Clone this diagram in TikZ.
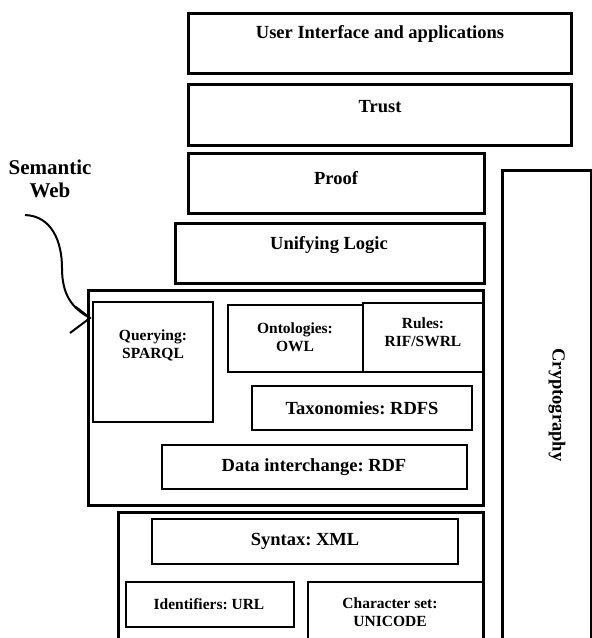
\documentclass[tikz,border=0pt]{standalone}
\usepackage{fontspec}
\setmainfont{Liberation Serif}
\usetikzlibrary{calc}
\frenchspacing
\begin{document}
\begin{tikzpicture}[x=1pt,y=-1pt,
  layer/.style={draw, line width=3pt, anchor=north west, inner sep=0pt, outer sep=0pt},
  inbox/.style={draw, line width=2pt, anchor=north west, inner sep=0pt, outer sep=0pt},
  biglbl/.style={font=\bfseries\fontsize{18.5}{21}\selectfont, align=center, inner sep=0pt},
  smalllbl/.style={font=\bfseries\fontsize{15.5}{18}\selectfont, align=center, inner sep=0pt},
  titlelbl/.style={font=\bfseries\fontsize{21}{23.5}\selectfont, align=center, inner sep=0pt}]
\useasboundingbox (0,0) rectangle (592,638);
\clip (0,0) rectangle (592,638);

% upper layers of the stack
\node[layer, minimum width=383, minimum height=60] (ui)    at (188,13)  {};
\node[layer, minimum width=383, minimum height=61] (trust) at (188,84)  {};
\node[layer, minimum width=296, minimum height=60] (proof) at (188,153) {};
\node[layer, minimum width=309, minimum height=60] (logic) at (175,223) {};

% semantic web block
\node[layer, minimum width=395, minimum height=215] (sw) at (88,290) {};
\node[inbox, minimum width=120, minimum height=120] (query) at (93,302)  {};
\node[inbox, minimum width=135, minimum height=67]  (onto)  at (228,305) {};
\node[inbox, minimum width=120, minimum height=69]  (rules) at (363,303) {};
\node[inbox, minimum width=220, minimum height=44]  (tax)   at (252,386) {};
\node[inbox, minimum width=305, minimum height=44]  (rdf)   at (162,445) {};

% lower block
\node[layer, minimum width=365, minimum height=150] (base) at (118,512) {};
\node[inbox, minimum width=306, minimum height=45]  (xml)  at (152,519) {};
\node[inbox, minimum width=168, minimum height=45]  (url)  at (126,582) {};
\node[inbox, minimum width=175, minimum height=80]  (uni)  at (308,582) {};

% vertical cryptography column
\node[layer, minimum width=89, minimum height=500] (crypto) at (502,170) {};

% labels
\node[biglbl] (tui)    at (380,34)  {User Interface and applications};
\node[biglbl] (ttrust) at (380,107) {Trust};
\node[biglbl] (tproof) at (336,178) {Proof};
\node[biglbl] (tlogic) at (329,245) {Unifying Logic};
\node[smalllbl] (tquery) at (153,345) {Querying:\\SPARQL};
\node[smalllbl] (tonto)  at (295,337) {Ontologies:\\OWL};
\node[smalllbl] (trules) at (423,332) {Rules:\\RIF/SWRL};
\node[biglbl] (ttax)   at (362,408) {Taxonomies: RDFS};
\node[biglbl] (trdf)   at (314,467) {Data interchange: RDF};
\node[biglbl] (txml)   at (305,541) {Syntax: XML};
\node[smalllbl] (turl) at (209,604) {Identifiers: URL};
\node[smalllbl] (tuni) at (390,612) {Character set:\\UNICODE};
\node[biglbl, rotate=-90] (tcrypto) at (557,405) {Cryptography};
\node[titlelbl] (tsw) at (50,179) {Semantic\\Web};

% curved pointer from the title to the semantic web block
\coordinate (arrstart) at (25,215);
\coordinate (arrtip) at ($(sw.north west)+(2,28)$);
\draw[line width=2pt] (arrstart) .. controls (52,216) and (62,242) .. (62,268)
  .. controls (62,295) and (72,308) .. (arrtip);
\draw[line width=2pt] ($(arrtip)+(-20,15)$) -- (arrtip) -- ($(arrtip)+(-14,-11)$);
\end{tikzpicture}
\end{document}
